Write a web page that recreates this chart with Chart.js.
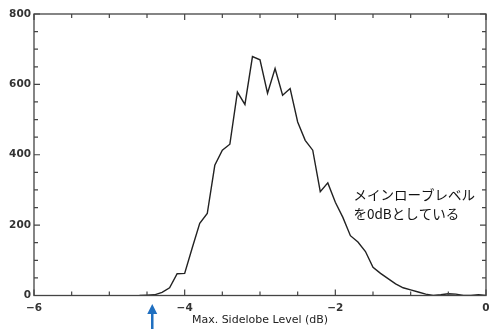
<!DOCTYPE html>
<html>
<head>
<meta charset="utf-8">
<script src="https://cdn.jsdelivr.net/npm/chart.js@4"></script>
<style>
    html, body { margin: 0; padding: 0; background: #fff; }
</style>
</head>
<body>
<canvas id="grafico" width="489" height="329"></canvas>
<script>
// Nivel máximo del lóbulo lateral (dB), centro de cada clase del histograma.
const NIVELES = [
    -4.6, -4.5, -4.4, -4.3, -4.2, -4.1, -4.0, -3.9, -3.8, -3.7,
    -3.6, -3.5, -3.4, -3.3, -3.2, -3.1, -3.0, -2.9, -2.8, -2.7,
    -2.6, -2.5, -2.4, -2.3, -2.2, -2.1, -2.0, -1.9, -1.8, -1.7,
    -1.6, -1.5, -1.4, -1.3, -1.2, -1.1, -1.0, -0.9, -0.8, -0.7,
    -0.6, -0.5, -0.4, -0.3, -0.2, -0.1, 0.0
];
// Frecuencia de cada clase.
const CONTEOS = [
    0, 1, 2, 9, 22, 62, 63, 135, 205, 233,
    370, 413, 430, 578, 543, 679, 670, 575, 645, 569,
    588, 493, 441, 413, 295, 320, 265, 222, 170, 152,
    125, 80, 63, 48, 33, 22, 16, 10, 4, 0,
    2, 5, 4, 0, 0, 2, 0
];
// Etiquetas de los ejes y nota.
const TITULO_X = 'Max. Sidelobe Level (dB)';
const NOTA = ['メインローブレベル', 'を0dBとしている'];
const FLECHA_DB = -4.43;   // Posición (dB) de la flecha azul.

/*
*   Plugin para dibujar el marco, las marcas hacia adentro, la nota y la flecha.
*/
const marcoIDL = {
    id: 'marcoIDL',
    afterDraw(chart) {
        const { ctx, chartArea: a, scales: { x, y } } = chart;
        ctx.save();
        ctx.strokeStyle = '#444';
        ctx.lineWidth = 1.3;
        ctx.strokeRect(a.left, a.top, a.right - a.left, a.bottom - a.top);

        // Marcas del eje X (cada 0.5 dB, mayores cada 2 dB).
        ctx.lineWidth = 1.2;
        ctx.beginPath();
        for (let v = -6; v <= 0.001; v += 0.5) {
            const px = x.getPixelForValue(v);
            const largo = (Math.abs(v % 2) < 0.01) ? 6 : 4;
            ctx.moveTo(px, a.bottom); ctx.lineTo(px, a.bottom - largo);
            ctx.moveTo(px, a.top); ctx.lineTo(px, a.top + largo);
        }
        // Marcas del eje Y (cada 50, mayores cada 200).
        for (let v = 0; v <= 800; v += 50) {
            const py = y.getPixelForValue(v);
            const largo = (v % 200 === 0) ? 6 : 4;
            ctx.moveTo(a.left, py); ctx.lineTo(a.left + largo, py);
            ctx.moveTo(a.right, py); ctx.lineTo(a.right - largo, py);
        }
        ctx.stroke();

        // Nota en japonés.
        ctx.fillStyle = '#111';
        ctx.font = '13.5px "Noto Sans CJK JP"';
        ctx.textAlign = 'left';
        ctx.textBaseline = 'middle';
        ctx.fillText(NOTA[0], x.getPixelForValue(-1.76), y.getPixelForValue(285));
        ctx.fillText(NOTA[1], x.getPixelForValue(-1.76), y.getPixelForValue(233));

        // Flecha azul bajo el eje X.
        const fx = x.getPixelForValue(FLECHA_DB);
        ctx.fillStyle = '#1f6fc0';
        ctx.strokeStyle = '#1f6fc0';
        ctx.lineWidth = 2.5;
        ctx.beginPath();
        ctx.moveTo(fx, 312); ctx.lineTo(fx, 329);
        ctx.stroke();
        ctx.beginPath();
        ctx.moveTo(fx, 304); ctx.lineTo(fx - 5, 314); ctx.lineTo(fx + 5, 314);
        ctx.closePath();
        ctx.fill();
        ctx.restore();
    }
};

// Se reemplaza el guion por el signo menos tipográfico.
const formatoTick = (v) => String(v).replace('-', '\u2212');

// Fuente de las etiquetas numéricas.
const fuenteTicks = { family: 'DejaVu Sans', size: 10.5, weight: 'bold' };

new Chart(document.getElementById('grafico'), {
    type: 'line',
    data: {
        datasets: [{
            data: NIVELES.map((n, i) => ({ x: n, y: CONTEOS[i] })),
            borderColor: '#222',     // Color de la línea.
            borderWidth: 1.4,
            pointRadius: 0,
            tension: 0,
            fill: false
        }]
    },
    options: {
        responsive: false,
        animation: false,
        events: [],
        layout: { padding: { top: 14, right: 3, left: 0, bottom: 0 } },
        plugins: {
            legend: { display: false },
            tooltip: { enabled: false }
        },
        scales: {
            x: {
                type: 'linear',
                min: -6,
                max: 0,
                afterFit: (s) => { s.height = 33.5; s.paddingLeft = 0; s.paddingRight = 0; },
                grid: { display: false, drawTicks: false },
                border: { display: false },
                ticks: {
                    stepSize: 2,
                    padding: 6.5,
                    color: '#333',
                    font: fuenteTicks,
                    callback: formatoTick
                },
                title: {
                    display: true,
                    text: TITULO_X,
                    color: '#222',
                    padding: { top: 0, bottom: 2.5 },
                    font: { family: 'DejaVu Sans', size: 11 }
                }
            },
            y: {
                min: 0,
                max: 800,
                afterFit: (s) => { s.width = 34; s.paddingTop = 0; s.paddingBottom = 0; },
                grid: { display: false, drawTicks: false },
                border: { display: false },
                ticks: {
                    stepSize: 200,
                    padding: 3,
                    color: '#333',
                    font: fuenteTicks,
                    callback: formatoTick
                }
            }
        }
    },
    plugins: [marcoIDL]
});
</script>
</body>
</html>
